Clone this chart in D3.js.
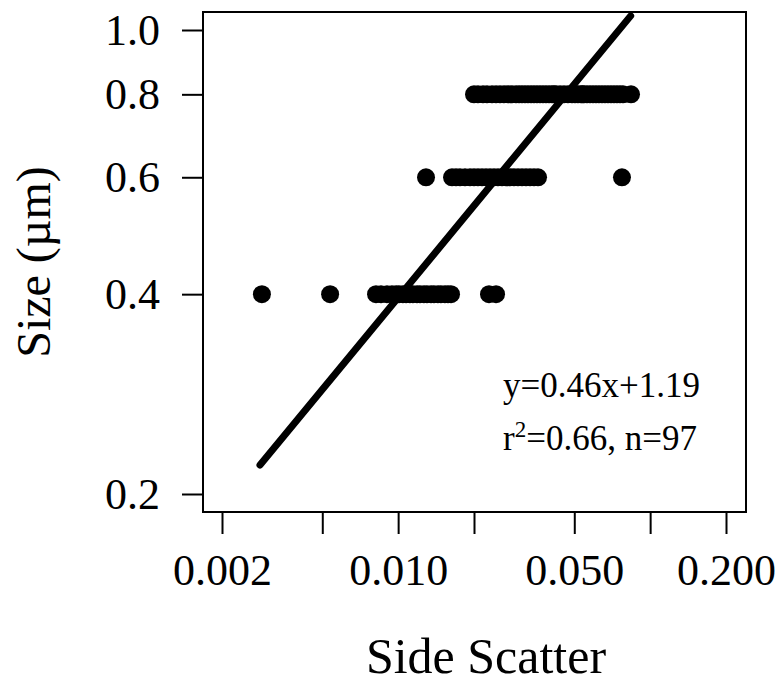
<!DOCTYPE html>
<html>
<head>
<meta charset="utf-8">
<script src="https://cdn.jsdelivr.net/npm/d3@7"></script>
<style>
  html, body { margin: 0; padding: 0; background: #fff; }
  svg { display: block; }
  text { font-family: "Liberation Serif", "Times New Roman", serif; fill: #000; }
</style>
</head>
<body>
<svg id="chart" width="784" height="684"></svg>
<script>
// Side scatter readings, grouped by particle size (µm)
const sizes = [0.4, 0.6, 0.8];

const sideScatter04 = [
  0.00288, 0.00537, 0.00817, 0.00855, 0.00903, 0.00945, 0.00981, 0.01008,
  0.01045, 0.01075, 0.01114, 0.01145, 0.01188, 0.01221, 0.01266, 0.01302,
  0.01350, 0.01388, 0.01439, 0.01479, 0.01534, 0.01577, 0.01621, 0.02294,
  0.02446
];
const sideScatter06 = [
  0.01290, 0.01636, 0.01697, 0.01760, 0.01842, 0.01928, 0.02000, 0.02074,
  0.02152, 0.02232, 0.02315, 0.02401, 0.02490, 0.02583, 0.02680, 0.02780,
  0.02882, 0.02990, 0.03101, 0.03217, 0.03337, 0.03460, 0.03590, 0.07730
];
const sideScatter08 = [
  0.02000, 0.02074, 0.02172, 0.02252, 0.02358, 0.02446, 0.02537, 0.02630,
  0.02728, 0.02830, 0.02936, 0.03019, 0.03101, 0.03188, 0.03276, 0.03368,
  0.03460, 0.03557, 0.03656, 0.03758, 0.03862, 0.03970, 0.04080, 0.04155,
  0.04232, 0.04390, 0.04552, 0.04720, 0.04898, 0.05034, 0.05172, 0.05316,
  0.05390, 0.05466, 0.05616, 0.05772, 0.05934, 0.06098, 0.06266, 0.06442,
  0.06620, 0.06804, 0.06994, 0.07188, 0.07388, 0.07592, 0.07804, 0.08396
];

// Fitted model: ln(size) = slope * ln(sideScatter) + intercept
const fitSlope = 0.46;
const fitIntercept = 1.19;
const fitRange = [0.00283, 0.0837];
const fitLabel = "y=0.46x+1.19";
const fitR2 = "0.66";
const fitN = 97;

// Axis ticks
const xTicks = [0.002, 0.005, 0.01, 0.02, 0.05, 0.1, 0.2];
const xTickLabels = { 0.002: "0.002", 0.01: "0.010", 0.05: "0.050", 0.2: "0.200" };
const yTicks = [0.2, 0.4, 0.6, 0.8, 1.0];
const yTickLabels = ["0.2", "0.4", "0.6", "0.8", "1.0"];

const xTitle = "Side Scatter";
const yTitle = "Size (\u00b5m)";

// ---- layout ----
const box = { left: 203, right: 746, top: 12, bottom: 512 };

const svg = d3.select("#chart");

const x = d3.scaleLog().domain([0.002, 0.2]).range([222, 726]);
const y = d3.scaleLog().domain([0.2, 1.0]).range([494, 30]);

// Points
const points = [];
sideScatter04.forEach(v => points.push({ x: v, y: sizes[0] }));
sideScatter06.forEach(v => points.push({ x: v, y: sizes[1] }));
sideScatter08.forEach(v => points.push({ x: v, y: sizes[2] }));

svg.append("g")
  .selectAll("circle")
  .data(points)
  .join("circle")
  .attr("cx", d => x(d.x))
  .attr("cy", d => y(d.y))
  .attr("r", 9)
  .attr("fill", "#000");

// Regression line
const fitAt = s => Math.exp(fitSlope * Math.log(s) + fitIntercept);
const fitPts = fitRange.map(s => [x(s), y(fitAt(s))]);
svg.append("path")
  .attr("d", d3.line()(fitPts))
  .attr("stroke", "#000")
  .attr("stroke-width", 7)
  .attr("stroke-linecap", "round")
  .attr("fill", "none");

// Plot frame
svg.append("rect")
  .attr("x", box.left).attr("y", box.top)
  .attr("width", box.right - box.left).attr("height", box.bottom - box.top)
  .attr("fill", "none").attr("stroke", "#000").attr("stroke-width", 2);

// X axis
const xAxis = svg.append("g")
  .attr("transform", `translate(0,${box.bottom})`)
  .call(d3.axisBottom(x)
    .tickValues(xTicks)
    .tickSize(22)
    .tickPadding(20)
    .tickFormat(d => xTickLabels[d] || ""));
xAxis.select(".domain").remove();
xAxis.selectAll(".tick line").attr("stroke", "#000").attr("stroke-width", 2);
xAxis.selectAll(".tick text")
  .style("font-family", "'Liberation Serif', 'Times New Roman', serif")
  .style("font-size", "44px");

// Y axis
const yAxis = svg.append("g")
  .attr("transform", `translate(${box.left},0)`)
  .call(d3.axisLeft(y)
    .tickValues(yTicks)
    .tickSize(21)
    .tickPadding(22)
    .tickFormat((d, i) => yTickLabels[i]));
yAxis.select(".domain").remove();
yAxis.selectAll(".tick line").attr("stroke", "#000").attr("stroke-width", 2);
yAxis.selectAll(".tick text")
  .style("font-family", "'Liberation Serif', 'Times New Roman', serif")
  .style("font-size", "44px");

// Axis titles
svg.append("text")
  .attr("x", 486)
  .attr("y", 673)
  .attr("text-anchor", "middle")
  .style("font-size", "50px")
  .text(xTitle);

svg.append("text")
  .attr("transform", `translate(50,${(box.top + box.bottom) / 2}) rotate(-90)`)
  .attr("text-anchor", "middle")
  .style("font-size", "48px")
  .text(yTitle);

// Fit annotation
svg.append("text")
  .attr("x", 503).attr("y", 397)
  .style("font-size", "35px")
  .text(fitLabel);

const stats = svg.append("text")
  .attr("x", 503).attr("y", 450)
  .style("font-size", "35px");
stats.append("tspan").text("r");
stats.append("tspan").attr("dy", -13).style("font-size", "23px").text("2");
stats.append("tspan").attr("dy", 13).text(`=${fitR2}, n=${fitN}`);
</script>
</body>
</html>
